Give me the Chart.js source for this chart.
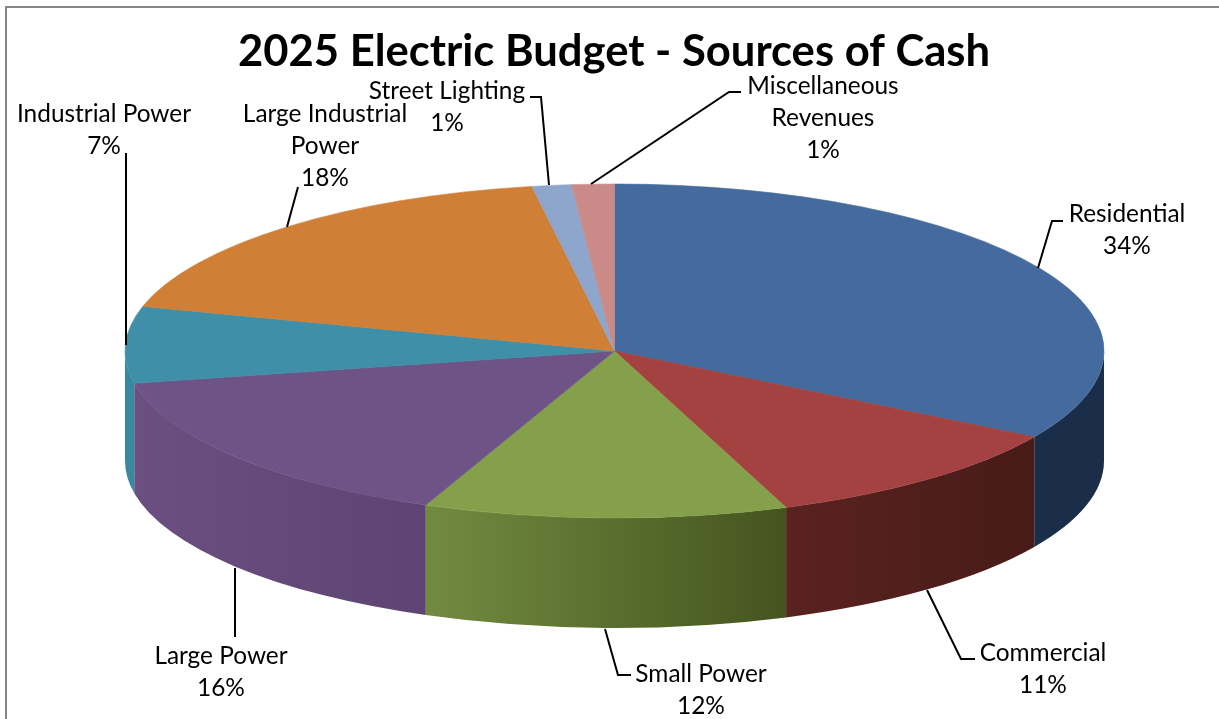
<!DOCTYPE html>
<html>
<head>
<meta charset="utf-8">
<style>html,body{margin:0;padding:0;background:#fff}canvas{display:block}</style>
<script src="https://cdn.jsdelivr.net/npm/chart.js@4"></script>
</head>
<body>
<canvas id="chart" width="1219" height="719"></canvas>
<script>
const categories = ['Residential','Commercial','Small Power','Large Power','Industrial Power','Large Industrial Power','Street Lighting','Miscellaneous Revenues'];
const shares = [33.6,10.7,12.0,15.6,7.4,18.0,1.3,1.4];
const topColors = ['#456a9e','#a34240','#84a04a','#6d5386','#3f8fa8','#cf7f36','#8fa6cc','#c98a88'];
const wallLeft = ['#1a2d49','#5a2220','#728b40','#6a4f80','#3a88a0','#b06a28','#7488a8','#a87070'];
const wallRight = ['#1a2d49','#471b18','#44541f','#5e4472','#3a88a0','#b06a28','#7488a8','#a87070'];

// Wrapped name lines, with the centre of the text block and its first row
const labelLines = [['Residential'],['Commercial'],['Small Power'],['Large Power'],['Industrial Power'],['Large Industrial','Power'],['Street Lighting'],['Miscellaneous','Revenues']];
const labelCentreX = [1127,1043,701,221,104,325,447,823];
const labelFirstY = [214,653,674,656,114,114,91,86];
const labelRowGap = 32;
const leaderPaths = [
  [[1038,268],[1052,221],[1063,221]],
  [[927,590],[961,659],[975,659]],
  [[605,629],[618,675],[631,675]],
  [[235,568],[235,637]],
  [[126,345],[126,153]],
  [[287,227],[298,187]],
  [[549,185],[541,97],[530,97]],
  [[591,184],[729,92],[741,92]]
];

// Flattened disc seen from above
const disc = {cx:614.5, cy:351, rx:489.5, ry:167, depth:110};

const FONT = 'Lato, Carlito, sans-serif';

// White page with a grey rule along the top and left edges
const framePlugin = {
  id:'frame',
  beforeDraw(chart){
    const c = chart.ctx;
    c.save();
    c.fillStyle = '#fff';
    c.fillRect(0,0,chart.width,chart.height);
    c.strokeStyle = '#868686';
    c.lineWidth = 2;
    c.beginPath();
    c.moveTo(6,chart.height);
    c.lineTo(6,7);
    c.lineTo(chart.width,7);
    c.stroke();
    c.restore();
  }
};

// Lays the library's circular arcs over an ellipse and adds the rim below them
const discPlugin = {
  id:'disc',
  beforeDatasetsDraw(chart){
    const c = chart.ctx;
    const arcs = chart.getDatasetMeta(0).data;
    arcs.forEach((arc,i)=>{
      const a0 = Math.max(arc.startAngle,0);
      const a1 = Math.min(arc.endAngle,Math.PI);
      if (a1 <= a0) return;
      const xa = disc.cx + disc.rx*Math.cos(a1);
      const xb = disc.cx + disc.rx*Math.cos(a0);
      const g = c.createLinearGradient(xa,0,xb,0);
      g.addColorStop(0,wallLeft[i]);
      g.addColorStop(1,wallRight[i]);
      c.beginPath();
      c.ellipse(disc.cx,disc.cy,disc.rx,disc.ry,0,a0,a1,false);
      c.ellipse(disc.cx,disc.cy+disc.depth,disc.rx,disc.ry,0,a1,a0,true);
      c.closePath();
      c.fillStyle = g;
      c.fill();
    });
    const first = arcs[0];
    const R = first.outerRadius;
    c.save();
    c.translate(disc.cx,disc.cy);
    c.scale(disc.rx/R,disc.ry/R);
    c.translate(-first.x,-first.y);
  },
  afterDatasetsDraw(chart){
    chart.ctx.restore();
  },
  afterDraw(chart){
    const c = chart.ctx;
    c.save();
    c.strokeStyle = '#000';
    c.lineWidth = 2;
    leaderPaths.forEach(path=>{
      c.beginPath();
      path.forEach(([x,y],k)=> k ? c.lineTo(x,y) : c.moveTo(x,y));
      c.stroke();
    });
    c.fillStyle = '#000';
    c.font = '24.4px '+FONT;
    c.textAlign = 'center';
    c.textBaseline = 'middle';
    categories.forEach((name,i)=>{
      const rows = labelLines[i].concat(Math.round(shares[i])+'%');
      rows.forEach((row,k)=> c.fillText(row,labelCentreX[i],labelFirstY[i]+k*labelRowGap));
    });
    c.restore();
  }
};

new Chart(document.getElementById('chart'),{
  type:'pie',
  data:{
    labels:categories,
    datasets:[{data:shares,backgroundColor:topColors,borderColor:topColors,borderWidth:0.6,clip:false}]
  },
  options:{
    responsive:false,
    animation:false,
    events:[],
    rotation:0,
    layout:{padding:{left:9}},
    plugins:{
      legend:{display:false},
      tooltip:{enabled:false},
      title:{
        display:true,
        text:'2025 Electric Budget - Sources of Cash',
        color:'#000',
        font:{family:FONT,size:43.6,weight:'bold',lineHeight:1.2},
        padding:{top:26,bottom:0}
      }
    }
  },
  plugins:[framePlugin,discPlugin]
});
</script>
</body>
</html>
